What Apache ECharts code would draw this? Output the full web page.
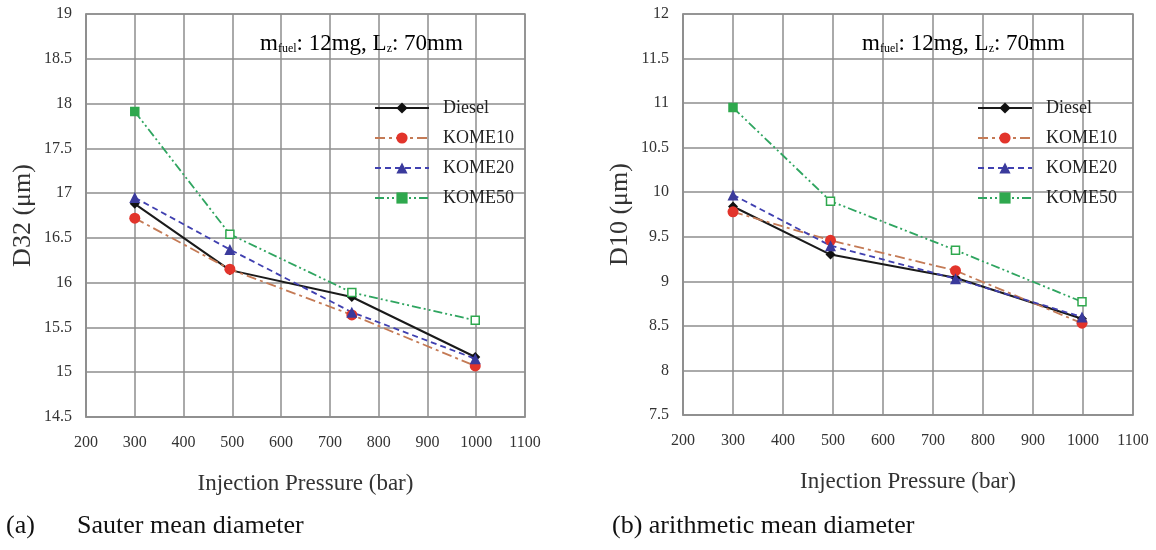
<!DOCTYPE html>
<html>
<head>
<meta charset="utf-8">
<script src="https://cdn.jsdelivr.net/npm/echarts@6/dist/echarts.min.js"></script>
<style>
html,body{margin:0;padding:0;background:#fff;}
#chart{width:1156px;height:550px;}
</style>
</head>
<body>
<div id="chart"></div>
<script>
// ---- data ----
const seriesNames = ['Diesel', 'KOME10', 'KOME20', 'KOME50'];
const xPressure = [300, 495, 745, 998];
const xTicks = [200, 300, 400, 500, 600, 700, 800, 900, 1000, 1100];
const d32Diesel = [16.88, 16.14, 15.84, 15.17];
const d32Kome10 = [16.72, 16.15, 15.64, 15.07];
const d32Kome20 = [16.95, 16.37, 15.67, 15.15];
const d32Kome50 = [17.91, 16.54, 15.89, 15.58];
const d10Diesel = [9.84, 9.30, 9.04, 8.58];
const d10Kome10 = [9.78, 9.46, 9.12, 8.53];
const d10Kome20 = [9.97, 9.40, 9.03, 8.60];
const d10Kome50 = [10.95, 9.90, 9.35, 8.77];
const yTicksLeft = [14.5, 15, 15.5, 16, 16.5, 17, 17.5, 18, 18.5, 19];
const yTicksRight = [7.5, 8, 8.5, 9, 9.5, 10, 10.5, 11, 11.5, 12];

const SERIF = '"Liberation Serif", "DejaVu Serif", serif';
const GRIDC = '#8e8e8e';
const styles = {
  Diesel: {line: '#1a1a1a', mark: '#111111', symbol: 'diamond', size: 10, dash: 'solid', width: 2},
  KOME10: {line: '#c47a55', mark: '#e2342b', symbol: 'circle', size: 11, dash: [10, 4, 3, 4], width: 1.8},
  KOME20: {line: '#4040b0', mark: '#3a3a9c', symbol: 'triangle', size: 11, dash: [6, 4], width: 1.8},
  KOME50: {line: '#2fa560', mark: '#2fa84e', symbol: 'rect', size: 8, dash: [9, 3, 2, 3, 2, 3], width: 1.8}
};

function pairs(vals, name) {
  return xPressure.map((x, i) => {
    if (name === 'KOME50' && i === 0) {
      return {value: [x, vals[i]], itemStyle: {color: styles.KOME50.mark}};
    }
    return [x, vals[i]];
  });
}

function makeSeries(name, vals, idx) {
  const s = styles[name];
  const hollow = name === 'KOME50';
  return {
    name: name,
    type: 'line',
    xAxisIndex: idx, yAxisIndex: idx,
    data: pairs(vals, name),
    symbol: s.symbol,
    symbolSize: s.size,
    showAllSymbol: true,
    lineStyle: {color: s.line, type: s.dash, width: s.width},
    itemStyle: hollow ? {color: '#ffffff', borderColor: s.mark, borderWidth: 1.5}
                      : {color: s.mark, borderWidth: 0},
    emphasis: {disabled: true},
    animation: false,
    z: name === 'Diesel' ? 3 : 4
  };
}

function makeLegend(idx, left) {
  return {
    show: true,
    orient: 'vertical',
    left: left, top: 98,
    padding: 0,
    itemWidth: 54, itemHeight: 14, itemGap: 10,
    textStyle: {fontFamily: SERIF, fontSize: 18, color: '#222', lineHeight: 20, padding: [0, 0, 0, 9]},
    data: seriesNames.map(n => ({
      name: n,
      itemStyle: n === 'KOME50' ? {color: styles.KOME50.mark, borderWidth: 0} : undefined
    })),
    selectedMode: false
  };
}

function xAxisCfg(idx) {
  return {
    type: 'value', gridIndex: idx,
    min: xTicks[0], max: xTicks[xTicks.length - 1], interval: 100,
    name: 'Injection Pressure (bar)', nameLocation: 'middle', nameGap: 55,
    nameTextStyle: {fontFamily: SERIF, fontSize: 23, color: '#333'},
    axisLine: {show: true, lineStyle: {color: GRIDC, width: 1.5}},
    axisTick: {show: false},
    axisLabel: {fontFamily: SERIF, fontSize: 16, color: '#333', margin: 18, formatter: v => String(v)},
    splitLine: {show: true, lineStyle: {color: GRIDC, width: 1.5}}
  };
}

function yAxisCfg(idx, ticks, name) {
  return {
    type: 'value', gridIndex: idx,
    min: ticks[0], max: ticks[ticks.length - 1], interval: 0.5,
    name: name, nameLocation: 'middle', nameGap: 50, nameRotate: 90,
    nameTextStyle: {fontFamily: SERIF, fontSize: 26, color: '#333'},
    axisLine: {show: true, lineStyle: {color: GRIDC, width: 1.5}},
    axisTick: {show: false},
    axisLabel: {fontFamily: SERIF, fontSize: 16, color: '#333', margin: 14, formatter: v => String(v)},
    splitLine: {show: true, lineStyle: {color: GRIDC, width: 1.5}}
  };
}

const annRich = {
  m: {fontFamily: SERIF, fontSize: 23, color: '#2a2a2a', lineHeight: 26, verticalAlign: 'bottom'},
  s: {fontFamily: SERIF, fontSize: 12, color: '#2a2a2a', lineHeight: 8, verticalAlign: 'bottom'}
};
const annText = '{m|m}{s|fuel}{m|: 12mg, L}{s|z}{m|: 70mm}';

const chart = echarts.init(document.getElementById('chart'), null, {renderer: 'canvas'});
const leftSeries = [d32Diesel, d32Kome10, d32Kome20, d32Kome50].map((v, i) => makeSeries(seriesNames[i], v, 0));
const rightSeries = [d10Diesel, d10Kome10, d10Kome20, d10Kome50].map((v, i) => makeSeries(seriesNames[i], v, 1));

chart.setOption({
  backgroundColor: '#ffffff',
  animation: false,
  grid: [
    {left: 86, top: 14, width: 439, height: 403, show: true, borderColor: GRIDC, borderWidth: 1.5, backgroundColor: '#fff'},
    {left: 683, top: 14, width: 450, height: 401, show: true, borderColor: GRIDC, borderWidth: 1.5, backgroundColor: '#fff'}
  ],
  xAxis: [xAxisCfg(0), xAxisCfg(1)],
  yAxis: [yAxisCfg(0, yTicksLeft, 'D32 (μm)'), yAxisCfg(1, yTicksRight, 'D10 (μm)')],
  legend: [makeLegend(0, 374), makeLegend(1, 977)],
  series: leftSeries.concat(rightSeries),
  graphic: [
    {type: 'text', left: 260, top: 32, z: 10, style: {text: annText, rich: annRich}},
    {type: 'text', left: 862, top: 32, z: 10, style: {text: annText, rich: annRich}},
    {type: 'text', left: 6, top: 513, style: {text: '(a)', fontFamily: SERIF, fontSize: 26, fill: '#111'}},
    {type: 'text', left: 77, top: 513, style: {text: 'Sauter mean diameter', fontFamily: SERIF, fontSize: 26, fill: '#111'}},
    {type: 'text', left: 612, top: 513, style: {text: '(b) arithmetic mean diameter', fontFamily: SERIF, fontSize: 26, fill: '#111'}}
  ]
});
</script>
</body>
</html>
